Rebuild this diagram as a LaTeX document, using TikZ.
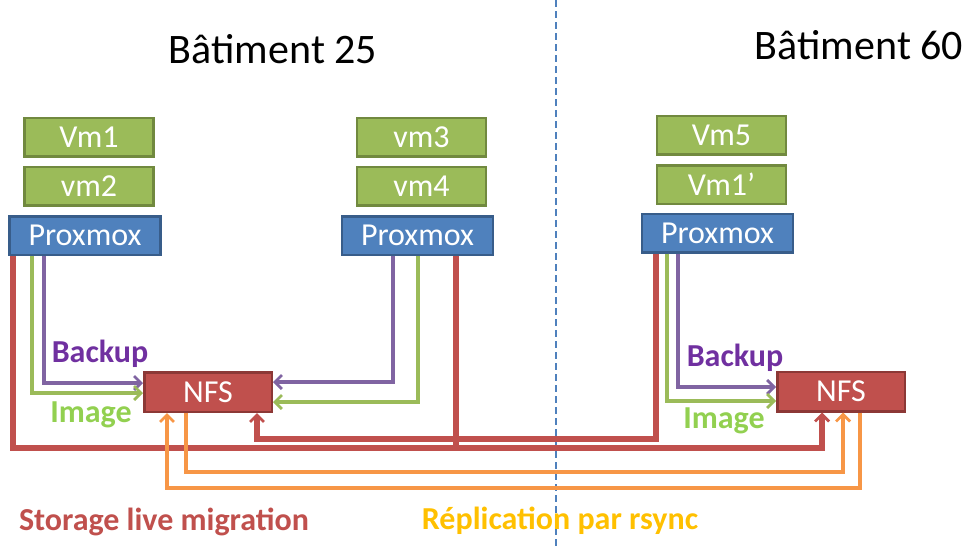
\documentclass[tikz,border=0pt]{standalone}
\usepackage{fontspec}
\setmainfont{Carlito}
\usetikzlibrary{arrows.meta}
\definecolor{vmgreen}{HTML}{9BBB59}
\definecolor{vmborder}{HTML}{71893F}
\definecolor{pxblue}{HTML}{4F81BD}
\definecolor{pxborder}{HTML}{385D8A}
\definecolor{nfsred}{HTML}{C0504D}
\definecolor{nfsborder}{HTML}{8C3836}
\definecolor{bkpurple}{HTML}{8064A2}
\definecolor{bktext}{HTML}{7030A0}
\definecolor{imgtext}{HTML}{92D050}
\definecolor{rsorange}{HTML}{F79646}
\definecolor{rstext}{HTML}{FFC000}
\tikzset{
  vmbox/.style={fill=vmgreen, draw=vmborder, line width=2.5pt, text=white,
    minimum width=129pt, minimum height=38.5pt, inner sep=0pt,
    font=\fontsize{32}{36}\selectfont},
  pxbox/.style={vmbox, fill=pxblue, draw=pxborder, minimum width=151pt},
  nfsbox/.style={vmbox, fill=nfsred, draw=nfsborder, minimum width=127.5pt, minimum height=39.5pt},
  tip/.style={-{Straight Barb[length=7pt,width=14pt,line width=2.8pt]}},
  redline/.style={draw=nfsred, line width=5.5pt},
  bkline/.style={draw=bkpurple, line width=3.5pt},
  imgline/.style={draw=vmgreen, line width=3.5pt},
  rsline/.style={draw=rsorange, line width=4pt},
  lbl/.style={font=\bfseries\fontsize{32}{36}\selectfont, anchor=base}
}
\begin{document}
\begin{tikzpicture}[x=1pt, y=-1pt]
  \useasboundingbox (0,0) rectangle (965,549);

  % building separator
  \coordinate (sepTop) at (556,0);
  \coordinate (sepBot) at (556,549);
  \draw[pxblue, dash pattern=on 7pt off 4pt, line width=1.2pt] (sepTop) -- (sepBot);

  % titles
  \node[anchor=base, font=\fontsize{42}{48}\selectfont] (bat25) at (273,63) {Bâtiment 25};
  \node[anchor=base, font=\fontsize{42}{48}\selectfont] (bat60) at (859,59) {Bâtiment 60};

  % hosts and guests
  \node[vmbox] (vm1) at (89,137) {Vm1};
  \node[vmbox] (vm2) at (89,186) {vm2};
  \node[pxbox] (px1) at (85,235.5) {Proxmox};
  \node[vmbox] (vm3) at (421.5,137) {vm3};
  \node[vmbox] (vm4) at (421.5,186) {vm4};
  \node[pxbox] (px2) at (417.5,235.5) {Proxmox};
  \node[vmbox] (vm5) at (721.5,135) {Vm5};
  \node[vmbox] (vm1p) at (721.5,184.5) {Vm1’};
  \node[pxbox] (px3) at (717.5,233) {Proxmox};

  % storage
  \node[nfsbox] (nfs1) at (208,392) {NFS};
  \node[nfsbox] (nfs2) at (841,391.5) {NFS};

  % storage live migration
  \coordinate (r1) at (822,448);
  \coordinate (r2) at (257,439);
  \draw[redline, tip] ([xshift=-72pt]px1.south) |- (r1) -- (r1 |- nfs2.south);
  \draw[redline] ([xshift=38.5pt]px2.south) -- ([xshift=38.5pt]px2.south |- r1);
  \draw[redline, tip] ([xshift=-61.5pt]px3.south) |- (r2) -- (r2 |- nfs1.south);

  % replication
  \coordinate (o1) at (843,472);
  \coordinate (o2) at (167,488);
  \draw[rsline, tip] ([xshift=-22pt]nfs1.south) |- (o1) -- (o1 |- nfs2.south);
  \draw[rsline, tip] ([xshift=19pt]nfs2.south) |- (o2) -- (o2 |- nfs1.south);

  % backup and image
  \draw[bkline, tip] ([xshift=-41pt]px1.south) |- ([yshift=9pt]nfs1.west);
  \draw[imgline, tip] ([xshift=-53pt]px1.south) |- ([yshift=-1pt]nfs1.west);
  \draw[bkline, tip] ([xshift=-24.5pt]px2.south) |- ([yshift=10pt]nfs1.east);
  \draw[imgline, tip] ([xshift=0.5pt]px2.south) |- ([yshift=-10pt]nfs1.east);
  \draw[bkline, tip] ([xshift=-39.5pt]px3.south) |- ([yshift=4.5pt]nfs2.west);
  \draw[imgline, tip] ([xshift=-50.5pt]px3.south) |- ([yshift=-9.5pt]nfs2.west);

  % labels
  \node[lbl, text=bktext] (bk1) at (100,362) {Backup};
  \node[lbl, text=imgtext] (im1) at (91,422) {Image};
  \node[lbl, text=bktext] (bk2) at (735,366) {Backup};
  \node[lbl, text=imgtext] (im2) at (724,428) {Image};
  \node[lbl, text=nfsred] (slm) at (164,530) {Storage live migration};
  \node[lbl, text=rstext] (rep) at (560,529) {Réplication par rsync};
\end{tikzpicture}
\end{document}
